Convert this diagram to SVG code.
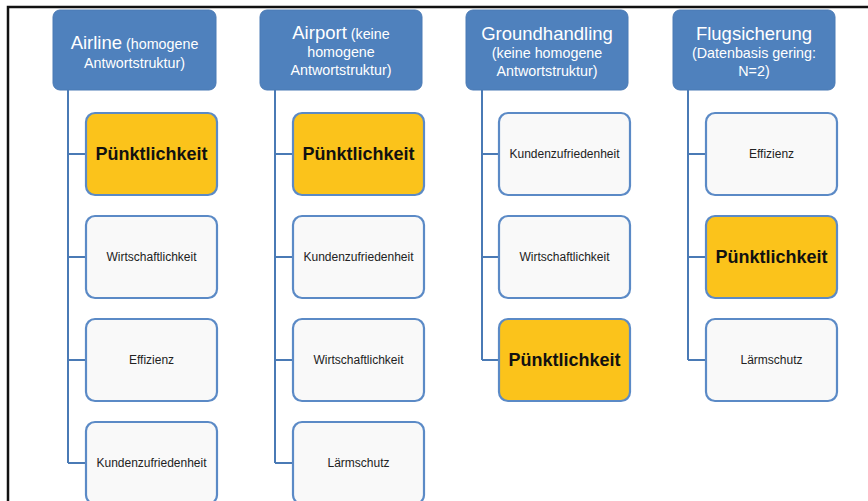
<svg xmlns="http://www.w3.org/2000/svg" width="868" height="501" viewBox="0 0 868 501">
<style>
.hdr{fill:#4F81BD;stroke:#4A7AB5;stroke-width:1}
.box{fill:#F9F9F9;stroke:#5B8AC6;stroke-width:2.2}
.hi{fill:#FBC31B;stroke:#5B8AC6;stroke-width:2.2}
.ht{font-family:"Liberation Sans",Arial,sans-serif;fill:#fff;text-anchor:middle}
.big{font-size:18.5px}
.sm{font-size:14.3px}
.bt{font-family:"Liberation Sans",Arial,sans-serif;font-size:12px;fill:#222;text-anchor:middle}
.bb{font-family:"Liberation Sans",Arial,sans-serif;font-size:18px;font-weight:bold;fill:#111;text-anchor:middle}
.con{fill:none;stroke:#4A7AB5;stroke-width:2}
</style>
<rect width="868" height="501" fill="#fff"/>
<path d="M8,501 V7 H868" fill="none" stroke="#111" stroke-width="2.5"/>
<g id="connectors">
<path class="con" d="M68,90 V463 M68,154 H86 M68,257 H86 M68,360 H86 M68,463 H86"/>
<path class="con" d="M275,90 V463 M275,154 H293 M275,257 H293 M275,360 H293 M275,463 H293"/>
<path class="con" d="M482,90 V360 M482,154 H499 M482,257 H499 M482,360 H499"/>
<path class="con" d="M688,90 V360 M688,154 H706 M688,257 H706 M688,360 H706"/>
</g>
<g id="h-airline"><rect class="hdr" x="53" y="10" width="163" height="80" rx="7"/>
<text class="ht" x="134.5" y="49"><tspan class="big">Airline</tspan><tspan class="sm"> (homogene</tspan></text>
<text class="ht sm" x="134.5" y="68">Antwortstruktur)</text></g>
<g id="h-airport"><rect class="hdr" x="260" y="10" width="162" height="80" rx="7"/>
<text class="ht" x="341" y="39"><tspan class="big">Airport</tspan><tspan class="sm"> (keine</tspan></text>
<text class="ht sm" x="341" y="57">homogene</text>
<text class="ht sm" x="341" y="75">Antwortstruktur)</text></g>
<g id="h-ground"><rect class="hdr" x="466" y="10" width="162" height="80" rx="7"/>
<text class="ht big" x="547" y="40">Groundhandling</text>
<text class="ht sm" x="547" y="58">(keine homogene</text>
<text class="ht sm" x="547" y="76">Antwortstruktur)</text></g>
<g id="h-flug"><rect class="hdr" x="673" y="10" width="162" height="80" rx="7"/>
<text class="ht big" x="754" y="40">Flugsicherung</text>
<text class="ht sm" x="754" y="58">(Datenbasis gering:</text>
<text class="ht sm" x="754" y="76">N=2)</text></g>
<g id="a1"><rect class="hi" x="86" y="113" width="131" height="82" rx="9"/><text class="bb" x="151.5" y="160">Pünktlichkeit</text></g>
<g id="a2"><rect class="box" x="86" y="216" width="131" height="82" rx="9"/><text class="bt" x="151.5" y="261">Wirtschaftlichkeit</text></g>
<g id="a3"><rect class="box" x="86" y="319" width="131" height="82" rx="9"/><text class="bt" x="151.5" y="364">Effizienz</text></g>
<g id="a4"><rect class="box" x="86" y="422" width="131" height="82" rx="9"/><text class="bt" x="151.5" y="467">Kundenzufriedenheit</text></g>
<g id="p1"><rect class="hi" x="293" y="113" width="131" height="82" rx="9"/><text class="bb" x="358.5" y="160">Pünktlichkeit</text></g>
<g id="p2"><rect class="box" x="293" y="216" width="131" height="82" rx="9"/><text class="bt" x="358.5" y="261">Kundenzufriedenheit</text></g>
<g id="p3"><rect class="box" x="293" y="319" width="131" height="82" rx="9"/><text class="bt" x="358.5" y="364">Wirtschaftlichkeit</text></g>
<g id="p4"><rect class="box" x="293" y="422" width="131" height="82" rx="9"/><text class="bt" x="358.5" y="467">Lärmschutz</text></g>
<g id="g1"><rect class="box" x="499" y="113" width="131" height="82" rx="9"/><text class="bt" x="564.5" y="158">Kundenzufriedenheit</text></g>
<g id="g2"><rect class="box" x="499" y="216" width="131" height="82" rx="9"/><text class="bt" x="564.5" y="261">Wirtschaftlichkeit</text></g>
<g id="g3"><rect class="hi" x="499" y="319" width="131" height="82" rx="9"/><text class="bb" x="564.5" y="366">Pünktlichkeit</text></g>
<g id="f1"><rect class="box" x="706" y="113" width="131" height="82" rx="9"/><text class="bt" x="771.5" y="158">Effizienz</text></g>
<g id="f2"><rect class="hi" x="706" y="216" width="131" height="82" rx="9"/><text class="bb" x="771.5" y="263">Pünktlichkeit</text></g>
<g id="f3"><rect class="box" x="706" y="319" width="131" height="82" rx="9"/><text class="bt" x="771.5" y="364">Lärmschutz</text></g>
</svg>
